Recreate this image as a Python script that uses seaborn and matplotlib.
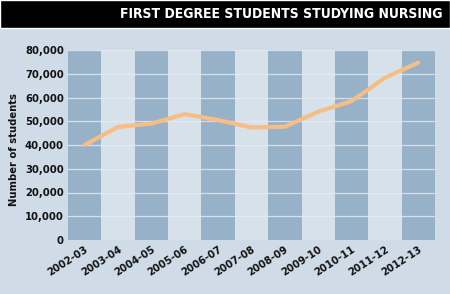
import matplotlib
matplotlib.use("Agg")
import matplotlib.pyplot as plt
import seaborn as sns
import pandas as pd
from matplotlib.ticker import FuncFormatter

years = ["2002-03", "2003-04", "2004-05", "2005-06", "2006-07", "2007-08",
         "2008-09", "2009-10", "2010-11", "2011-12", "2012-13"]
students = [40000, 47600, 49000, 53000, 50500, 47400, 47700, 54000, 58500, 68300, 74700]
band_top = 80000
title = "FIRST DEGREE STUDENTS STUDYING NURSING"
ylabel = "Number of students"
yticks = [0, 10000, 20000, 30000, 40000, 50000, 60000, 70000, 80000]

bg = "#cfdbe6"
sns.set_theme(style="white")
plt.rcParams['font.family'] = ['DejaVu Sans']
plt.rcParams['font.stretch'] = 'condensed'

fig = plt.figure(figsize=(4.5, 2.94), dpi=100, facecolor=bg)
# header band
fig.patches.append(plt.Rectangle((0, 1 - 28 / 294), 1, 28 / 294, transform=fig.transFigure,
                                 facecolor="black", zorder=0))
fig.text(443 / 450, 1 - 14.5 / 294, title, color="white", fontsize=10, fontweight="bold",
         fontstretch="condensed", ha="right", va="center")

ax = fig.add_axes([68 / 450, 1 - 240 / 294, 367 / 450, 190 / 294])
ax.set_facecolor(bg)

df = pd.DataFrame({"year": years, "students": students,
                   "band": [band_top] * len(years),
                   "shade": ["dark" if i % 2 == 0 else "light" for i in range(len(years))]})

sns.barplot(data=df, x="year", y="band", hue="shade", palette={"dark": "#97b1c8", "light": "#d6e1ea"},
            width=1.0, dodge=False, legend=False, ax=ax, linewidth=0, saturation=1, zorder=1)
for y in yticks[1:]:
    ax.axhline(y, color="#e6edf3", lw=0.9, alpha=0.8, zorder=2)
sns.lineplot(data=df, x="year", y="students", color="#f6be84", lw=3, ax=ax, zorder=3)

ax.set_xlim(-0.5, len(years) - 0.5)
ax.set_ylim(0, band_top)
ax.set_yticks(yticks)
ax.yaxis.set_major_formatter(FuncFormatter(lambda v, p: f"{int(v):,}"))
for s in ax.spines.values():
    s.set_visible(False)
ax.tick_params(axis="both", length=0, pad=3)
plt.setp(ax.get_yticklabels(), fontsize=8, fontweight="bold", color="#111111", fontstretch="condensed")
plt.setp(ax.get_xticklabels(), fontsize=8, fontweight="bold", color="#111111", fontstretch="condensed",
         rotation=33, ha="right", rotation_mode="anchor")
ax.set_xlabel("")
ax.set_ylabel("")
fig.text(14 / 450, 1 - 150 / 294, ylabel, rotation=90, fontsize=8, fontweight="bold",
         fontstretch="condensed", ha="center", va="center", color="#111111")

fig.savefig("out.png", dpi=100, facecolor=bg)
